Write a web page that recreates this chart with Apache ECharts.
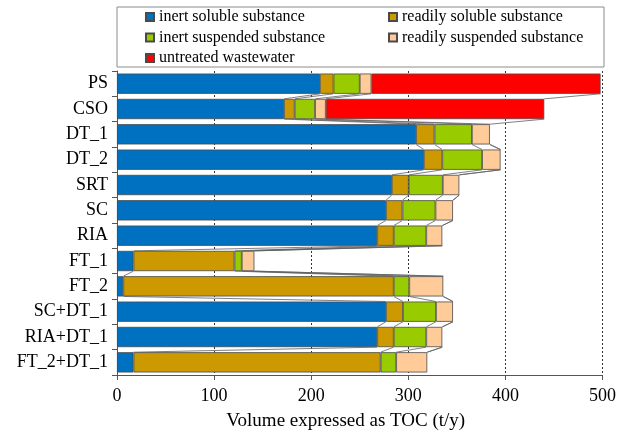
<!DOCTYPE html>
<html>
<head>
<meta charset="utf-8">
<script src="https://cdn.jsdelivr.net/npm/echarts@6/dist/echarts.min.js"></script>
<style>
  html, body { margin: 0; padding: 0; background: #fff; }
  #chart { width: 619px; height: 437px; }
</style>
</head>
<body>
<div id="chart"></div>
<script>
// data (t/y of TOC)
const categories = ['PS', 'CSO', 'DT_1', 'DT_2', 'SRT', 'SC', 'RIA', 'FT_1', 'FT_2', 'SC+DT_1', 'RIA+DT_1', 'FT_2+DT_1']
const inertSoluble = [209, 172, 308, 316, 283, 277, 268, 17, 6.5, 277, 268, 17]
const readilySoluble = [14, 11, 19, 19, 17.5, 17, 17, 104, 278.5, 17.5, 17, 254.5]
const inertSuspended = [27, 21, 38.5, 41, 35, 34, 33.5, 7.5, 16, 34, 33.5, 16]
const readilySuspended = [12, 11, 18.5, 19, 17, 18, 16.5, 13, 35, 17.5, 16.5, 32]
const untreated = [236, 225, 0, 0, 0, 0, 0, 0, 0, 0, 0, 0]
const xTicks = [0, 100, 200, 300, 400, 500]

const names = ['inert soluble substance', 'readily soluble substance', 'inert suspended substance', 'readily suspended substance', 'untreated wastewater']
const colors = ['#0070C0', '#CC9900', '#99CC00', '#FFCC99', '#FF0000']
const stacks = [inertSoluble, readilySoluble, inertSuspended, readilySuspended, untreated]

// cumulative ends of each segment, used for the series lines
const cum = categories.map((_, i) => {
  let s = 0
  return stacks.map(arr => (s += arr[i]))
})

const font = 'Liberation Serif'
const chart = echarts.init(document.getElementById('chart'))

const barSeries = stacks.map((arr, k) => ({
  name: names[k],
  type: 'bar',
  stack: 'total',
  barCategoryGap: '20%',
  itemStyle: { color: colors[k], borderColor: '#4a4a4a', borderWidth: 0.8 },
  data: arr.map(v => (v === 0 ? null : v)),
  z: 3
}))

const seriesLines = {
  type: 'custom',
  silent: true,
  z: 4,
  data: categories.slice(0, -1).map((_, i) => [0, i]),
  encode: { x: 0, y: 1 },
  renderItem: function (params, api) {
    const i = params.dataIndex
    const band = api.size([0, 1])[1]
    const half = band * 0.8 / 2
    const children = cum[i].map((v, k) => {
      const a = api.coord([v, i])
      const b = api.coord([cum[i + 1][k], i + 1])
      return {
        type: 'line',
        shape: { x1: a[0], y1: a[1] + half, x2: b[0], y2: b[1] - half },
        style: { stroke: '#606060', lineWidth: 0.8 }
      }
    })
    return { type: 'group', children: children }
  }
}

const legendBase = {
  orient: 'vertical',
  top: 9,
  padding: 0,
  itemGap: 4.5,
  itemWidth: 8,
  itemHeight: 8,
  icon: 'rect',
  textStyle: { fontFamily: font, fontSize: 16, color: '#000', lineHeight: 16 }
}

const option = {
  animation: false,
  backgroundColor: '#fff',
  graphic: [{
    type: 'rect',
    shape: { x: 117, y: 7, width: 487, height: 60 },
    style: { fill: 'none', stroke: '#8c8c8c', lineWidth: 1 },
    silent: true
  }],
  legend: [
    Object.assign({}, legendBase, { left: 145, data: [names[0], names[2], names[4]] }),
    Object.assign({}, legendBase, { left: 388, data: [names[1], names[3]] })
  ],
  grid: { left: 117, right: 16, top: 71, bottom: 62 },
  xAxis: {
    type: 'value',
    min: 0,
    max: 500,
    interval: 100,
    name: 'Volume expressed as TOC (t/y)',
    nameLocation: 'middle',
    nameGap: 37,
    nameTextStyle: { fontFamily: font, fontSize: 19, color: '#000', padding: [0, 28, 0, 0] },
    axisLine: { show: true, lineStyle: { color: '#555' } },
    axisTick: { show: true, length: 5, lineStyle: { color: '#555' } },
    axisLabel: {
      margin: 12,
      fontFamily: font, fontSize: 18, color: '#000',
      formatter: v => (xTicks.includes(v) ? String(v) : '')
    },
    splitLine: { show: true, lineStyle: { color: '#333', type: [2, 2], width: 1 } }
  },
  yAxis: {
    type: 'category',
    inverse: true,
    data: categories,
    axisLine: { show: true, lineStyle: { color: '#555' } },
    axisTick: { show: true, length: 5, lineStyle: { color: '#555' } },
    axisLabel: { margin: 9, fontFamily: font, fontSize: 18, color: '#000' }
  },
  series: barSeries.concat([seriesLines])
}

chart.setOption(option)
window.addEventListener('resize', () => chart.resize())
</script>
</body>
</html>
